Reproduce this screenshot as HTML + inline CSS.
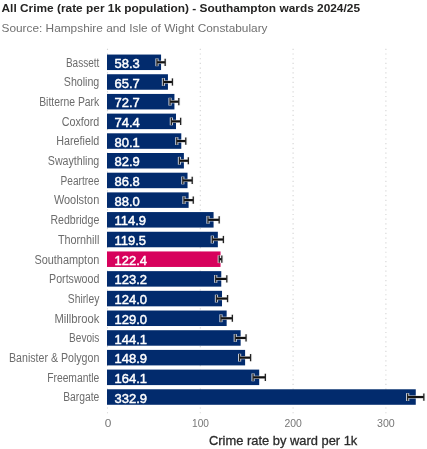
<!DOCTYPE html>
<html><head><meta charset="utf-8"><style>
html,body{margin:0;padding:0;background:#fff;width:427px;height:449px;overflow:hidden}
svg{display:block;filter:blur(0.35px)}
text{font-family:"Liberation Sans",sans-serif}
</style></head><body>
<svg width="427" height="449" viewBox="0 0 427 449">

<text x="1.5" y="12.4" font-size="11.8" font-weight="bold" fill="#252423" textLength="358.5" lengthAdjust="spacingAndGlyphs">All Crime (rate per 1k population) - Southampton wards 2024/25</text>
<text x="1.5" y="31.6" font-size="11.8" fill="#707070" textLength="266" lengthAdjust="spacingAndGlyphs">Source: Hampshire and Isle of Wight Constabulary</text>
<line x1="107.50" y1="48.7" x2="107.50" y2="414.5" stroke="#d4d4d4" stroke-width="1.1" stroke-dasharray="1.2 3.52"/>
<line x1="200.30" y1="48.7" x2="200.30" y2="414.5" stroke="#d4d4d4" stroke-width="1.1" stroke-dasharray="1.2 3.52"/>
<line x1="293.10" y1="48.7" x2="293.10" y2="414.5" stroke="#d4d4d4" stroke-width="1.1" stroke-dasharray="1.2 3.52"/>
<line x1="385.90" y1="48.7" x2="385.90" y2="414.5" stroke="#d4d4d4" stroke-width="1.1" stroke-dasharray="1.2 3.52"/>
<rect x="107.0" y="54.55" width="54.07" height="15.5" fill="#022b6d"/>
<text x="99.3" y="66.60" font-size="12.3" fill="#6c6c6c" text-anchor="end" textLength="33.4" lengthAdjust="spacingAndGlyphs">Bassett</text>
<text x="114.5" y="67.90" font-size="13" fill="#ffffff" stroke="#ffffff" stroke-width="0.45">58.3</text>
<rect x="107.0" y="74.24" width="60.94" height="15.5" fill="#022b6d"/>
<text x="99.3" y="86.29" font-size="12.3" fill="#6c6c6c" text-anchor="end" textLength="35.5" lengthAdjust="spacingAndGlyphs">Sholing</text>
<text x="114.5" y="87.59" font-size="13" fill="#ffffff" stroke="#ffffff" stroke-width="0.45">65.7</text>
<rect x="107.0" y="93.93" width="67.43" height="15.5" fill="#022b6d"/>
<text x="99.3" y="105.98" font-size="12.3" fill="#6c6c6c" text-anchor="end" textLength="60.1" lengthAdjust="spacingAndGlyphs">Bitterne Park</text>
<text x="114.5" y="107.28" font-size="13" fill="#ffffff" stroke="#ffffff" stroke-width="0.45">72.7</text>
<rect x="107.0" y="113.62" width="69.01" height="15.5" fill="#022b6d"/>
<text x="99.3" y="125.67" font-size="12.3" fill="#6c6c6c" text-anchor="end" textLength="37.6" lengthAdjust="spacingAndGlyphs">Coxford</text>
<text x="114.5" y="126.97" font-size="13" fill="#ffffff" stroke="#ffffff" stroke-width="0.45">74.4</text>
<rect x="107.0" y="133.31" width="74.29" height="15.5" fill="#022b6d"/>
<text x="99.3" y="145.36" font-size="12.3" fill="#6c6c6c" text-anchor="end" textLength="43.0" lengthAdjust="spacingAndGlyphs">Harefield</text>
<text x="114.5" y="146.66" font-size="13" fill="#ffffff" stroke="#ffffff" stroke-width="0.45">80.1</text>
<rect x="107.0" y="153.00" width="76.89" height="15.5" fill="#022b6d"/>
<text x="99.3" y="165.05" font-size="12.3" fill="#6c6c6c" text-anchor="end" textLength="51.5" lengthAdjust="spacingAndGlyphs">Swaythling</text>
<text x="114.5" y="166.35" font-size="13" fill="#ffffff" stroke="#ffffff" stroke-width="0.45">82.9</text>
<rect x="107.0" y="172.69" width="80.51" height="15.5" fill="#022b6d"/>
<text x="99.3" y="184.74" font-size="12.3" fill="#6c6c6c" text-anchor="end" textLength="38.7" lengthAdjust="spacingAndGlyphs">Peartree</text>
<text x="114.5" y="186.04" font-size="13" fill="#ffffff" stroke="#ffffff" stroke-width="0.45">86.8</text>
<rect x="107.0" y="192.38" width="81.62" height="15.5" fill="#022b6d"/>
<text x="99.3" y="204.43" font-size="12.3" fill="#6c6c6c" text-anchor="end" textLength="45.4" lengthAdjust="spacingAndGlyphs">Woolston</text>
<text x="114.5" y="205.73" font-size="13" fill="#ffffff" stroke="#ffffff" stroke-width="0.45">88.0</text>
<rect x="107.0" y="212.07" width="106.57" height="15.5" fill="#022b6d"/>
<text x="99.3" y="224.12" font-size="12.3" fill="#6c6c6c" text-anchor="end" textLength="48.9" lengthAdjust="spacingAndGlyphs">Redbridge</text>
<text x="114.5" y="225.42" font-size="13" fill="#ffffff" stroke="#ffffff" stroke-width="0.45">114.9</text>
<rect x="107.0" y="231.76" width="110.84" height="15.5" fill="#022b6d"/>
<text x="99.3" y="243.81" font-size="12.3" fill="#6c6c6c" text-anchor="end" textLength="41.4" lengthAdjust="spacingAndGlyphs">Thornhill</text>
<text x="114.5" y="245.11" font-size="13" fill="#ffffff" stroke="#ffffff" stroke-width="0.45">119.5</text>
<rect x="107.0" y="251.45" width="113.53" height="15.5" fill="#d7015c"/>
<text x="99.3" y="263.50" font-size="12.3" fill="#6c6c6c" text-anchor="end" textLength="64.9" lengthAdjust="spacingAndGlyphs">Southampton</text>
<text x="114.5" y="264.80" font-size="13" fill="#ffffff" stroke="#ffffff" stroke-width="0.45">122.4</text>
<rect x="107.0" y="271.14" width="114.27" height="15.5" fill="#022b6d"/>
<text x="99.3" y="283.19" font-size="12.3" fill="#6c6c6c" text-anchor="end" textLength="50.2" lengthAdjust="spacingAndGlyphs">Portswood</text>
<text x="114.5" y="284.49" font-size="13" fill="#ffffff" stroke="#ffffff" stroke-width="0.45">123.2</text>
<rect x="107.0" y="290.83" width="115.01" height="15.5" fill="#022b6d"/>
<text x="99.3" y="302.88" font-size="12.3" fill="#6c6c6c" text-anchor="end" textLength="31.5" lengthAdjust="spacingAndGlyphs">Shirley</text>
<text x="114.5" y="304.18" font-size="13" fill="#ffffff" stroke="#ffffff" stroke-width="0.45">124.0</text>
<rect x="107.0" y="310.52" width="119.65" height="15.5" fill="#022b6d"/>
<text x="99.3" y="322.57" font-size="12.3" fill="#6c6c6c" text-anchor="end" textLength="44.9" lengthAdjust="spacingAndGlyphs">Millbrook</text>
<text x="114.5" y="323.87" font-size="13" fill="#ffffff" stroke="#ffffff" stroke-width="0.45">129.0</text>
<rect x="107.0" y="330.21" width="133.65" height="15.5" fill="#022b6d"/>
<text x="99.3" y="342.26" font-size="12.3" fill="#6c6c6c" text-anchor="end" textLength="30.2" lengthAdjust="spacingAndGlyphs">Bevois</text>
<text x="114.5" y="343.56" font-size="13" fill="#ffffff" stroke="#ffffff" stroke-width="0.45">144.1</text>
<rect x="107.0" y="349.90" width="138.10" height="15.5" fill="#022b6d"/>
<text x="99.3" y="361.95" font-size="12.3" fill="#6c6c6c" text-anchor="end" textLength="90.3" lengthAdjust="spacingAndGlyphs">Banister &amp; Polygon</text>
<text x="114.5" y="363.25" font-size="13" fill="#ffffff" stroke="#ffffff" stroke-width="0.45">148.9</text>
<rect x="107.0" y="369.59" width="152.20" height="15.5" fill="#022b6d"/>
<text x="99.3" y="381.64" font-size="12.3" fill="#6c6c6c" text-anchor="end" textLength="52.1" lengthAdjust="spacingAndGlyphs">Freemantle</text>
<text x="114.5" y="382.94" font-size="13" fill="#ffffff" stroke="#ffffff" stroke-width="0.45">164.1</text>
<rect x="107.0" y="389.28" width="308.76" height="15.5" fill="#022b6d"/>
<text x="99.3" y="401.33" font-size="12.3" fill="#6c6c6c" text-anchor="end" textLength="36.1" lengthAdjust="spacingAndGlyphs">Bargate</text>
<text x="114.5" y="402.63" font-size="13" fill="#ffffff" stroke="#ffffff" stroke-width="0.45">332.9</text>
<g stroke="#f0f0f0" stroke-opacity="0.85" stroke-width="3.2" fill="none"><line x1="156.97" y1="62.30" x2="165.17" y2="62.30"/><line x1="156.97" y1="58.40" x2="156.97" y2="66.20"/><line x1="165.17" y1="58.40" x2="165.17" y2="66.20"/></g>
<g stroke="#111111" fill="none"><line stroke-width="2.2" x1="156.97" y1="62.30" x2="165.17" y2="62.30"/><line stroke-width="1.3" stroke="#222222" x1="156.97" y1="58.70" x2="156.97" y2="65.90"/><line stroke-width="1.3" stroke="#222222" x1="165.17" y1="58.70" x2="165.17" y2="65.90"/></g>
<g stroke="#f0f0f0" stroke-opacity="0.85" stroke-width="3.2" fill="none"><line x1="163.44" y1="81.99" x2="172.44" y2="81.99"/><line x1="163.44" y1="78.09" x2="163.44" y2="85.89"/><line x1="172.44" y1="78.09" x2="172.44" y2="85.89"/></g>
<g stroke="#111111" fill="none"><line stroke-width="2.2" x1="163.44" y1="81.99" x2="172.44" y2="81.99"/><line stroke-width="1.3" stroke="#222222" x1="163.44" y1="78.39" x2="163.44" y2="85.59"/><line stroke-width="1.3" stroke="#222222" x1="172.44" y1="78.39" x2="172.44" y2="85.59"/></g>
<g stroke="#f0f0f0" stroke-opacity="0.85" stroke-width="3.2" fill="none"><line x1="170.03" y1="101.68" x2="178.83" y2="101.68"/><line x1="170.03" y1="97.78" x2="170.03" y2="105.58"/><line x1="178.83" y1="97.78" x2="178.83" y2="105.58"/></g>
<g stroke="#111111" fill="none"><line stroke-width="2.2" x1="170.03" y1="101.68" x2="178.83" y2="101.68"/><line stroke-width="1.3" stroke="#222222" x1="170.03" y1="98.08" x2="170.03" y2="105.28"/><line stroke-width="1.3" stroke="#222222" x1="178.83" y1="98.08" x2="178.83" y2="105.28"/></g>
<g stroke="#f0f0f0" stroke-opacity="0.85" stroke-width="3.2" fill="none"><line x1="171.36" y1="121.37" x2="180.66" y2="121.37"/><line x1="171.36" y1="117.47" x2="171.36" y2="125.27"/><line x1="180.66" y1="117.47" x2="180.66" y2="125.27"/></g>
<g stroke="#111111" fill="none"><line stroke-width="2.2" x1="171.36" y1="121.37" x2="180.66" y2="121.37"/><line stroke-width="1.3" stroke="#222222" x1="171.36" y1="117.77" x2="171.36" y2="124.97"/><line stroke-width="1.3" stroke="#222222" x1="180.66" y1="117.77" x2="180.66" y2="124.97"/></g>
<g stroke="#f0f0f0" stroke-opacity="0.85" stroke-width="3.2" fill="none"><line x1="176.79" y1="141.06" x2="185.79" y2="141.06"/><line x1="176.79" y1="137.16" x2="176.79" y2="144.96"/><line x1="185.79" y1="137.16" x2="185.79" y2="144.96"/></g>
<g stroke="#111111" fill="none"><line stroke-width="2.2" x1="176.79" y1="141.06" x2="185.79" y2="141.06"/><line stroke-width="1.3" stroke="#222222" x1="176.79" y1="137.46" x2="176.79" y2="144.66"/><line stroke-width="1.3" stroke="#222222" x1="185.79" y1="137.46" x2="185.79" y2="144.66"/></g>
<g stroke="#f0f0f0" stroke-opacity="0.85" stroke-width="3.2" fill="none"><line x1="179.44" y1="160.75" x2="188.34" y2="160.75"/><line x1="179.44" y1="156.85" x2="179.44" y2="164.65"/><line x1="188.34" y1="156.85" x2="188.34" y2="164.65"/></g>
<g stroke="#111111" fill="none"><line stroke-width="2.2" x1="179.44" y1="160.75" x2="188.34" y2="160.75"/><line stroke-width="1.3" stroke="#222222" x1="179.44" y1="157.15" x2="179.44" y2="164.35"/><line stroke-width="1.3" stroke="#222222" x1="188.34" y1="157.15" x2="188.34" y2="164.35"/></g>
<g stroke="#f0f0f0" stroke-opacity="0.85" stroke-width="3.2" fill="none"><line x1="182.81" y1="180.44" x2="192.21" y2="180.44"/><line x1="182.81" y1="176.54" x2="182.81" y2="184.34"/><line x1="192.21" y1="176.54" x2="192.21" y2="184.34"/></g>
<g stroke="#111111" fill="none"><line stroke-width="2.2" x1="182.81" y1="180.44" x2="192.21" y2="180.44"/><line stroke-width="1.3" stroke="#222222" x1="182.81" y1="176.84" x2="182.81" y2="184.04"/><line stroke-width="1.3" stroke="#222222" x1="192.21" y1="176.84" x2="192.21" y2="184.04"/></g>
<g stroke="#f0f0f0" stroke-opacity="0.85" stroke-width="3.2" fill="none"><line x1="183.97" y1="200.13" x2="193.27" y2="200.13"/><line x1="183.97" y1="196.23" x2="183.97" y2="204.03"/><line x1="193.27" y1="196.23" x2="193.27" y2="204.03"/></g>
<g stroke="#111111" fill="none"><line stroke-width="2.2" x1="183.97" y1="200.13" x2="193.27" y2="200.13"/><line stroke-width="1.3" stroke="#222222" x1="183.97" y1="196.53" x2="183.97" y2="203.73"/><line stroke-width="1.3" stroke="#222222" x1="193.27" y1="196.53" x2="193.27" y2="203.73"/></g>
<g stroke="#f0f0f0" stroke-opacity="0.85" stroke-width="3.2" fill="none"><line x1="207.97" y1="219.82" x2="219.17" y2="219.82"/><line x1="207.97" y1="215.92" x2="207.97" y2="223.72"/><line x1="219.17" y1="215.92" x2="219.17" y2="223.72"/></g>
<g stroke="#111111" fill="none"><line stroke-width="2.2" x1="207.97" y1="219.82" x2="219.17" y2="219.82"/><line stroke-width="1.3" stroke="#222222" x1="207.97" y1="216.22" x2="207.97" y2="223.42"/><line stroke-width="1.3" stroke="#222222" x1="219.17" y1="216.22" x2="219.17" y2="223.42"/></g>
<g stroke="#f0f0f0" stroke-opacity="0.85" stroke-width="3.2" fill="none"><line x1="212.29" y1="239.51" x2="223.39" y2="239.51"/><line x1="212.29" y1="235.61" x2="212.29" y2="243.41"/><line x1="223.39" y1="235.61" x2="223.39" y2="243.41"/></g>
<g stroke="#111111" fill="none"><line stroke-width="2.2" x1="212.29" y1="239.51" x2="223.39" y2="239.51"/><line stroke-width="1.3" stroke="#222222" x1="212.29" y1="235.91" x2="212.29" y2="243.11"/><line stroke-width="1.3" stroke="#222222" x1="223.39" y1="235.91" x2="223.39" y2="243.11"/></g>
<g stroke="#f0f0f0" stroke-opacity="0.85" stroke-width="3.2" fill="none"><line x1="219.23" y1="259.20" x2="221.83" y2="259.20"/><line x1="219.23" y1="255.30" x2="219.23" y2="263.10"/><line x1="221.83" y1="255.30" x2="221.83" y2="263.10"/></g>
<g stroke="#111111" fill="none"><line stroke-width="2.2" x1="219.23" y1="259.20" x2="221.83" y2="259.20"/><line stroke-width="1.3" stroke="#222222" x1="219.23" y1="255.60" x2="219.23" y2="262.80"/><line stroke-width="1.3" stroke="#222222" x1="221.83" y1="255.60" x2="221.83" y2="262.80"/></g>
<g stroke="#f0f0f0" stroke-opacity="0.85" stroke-width="3.2" fill="none"><line x1="215.72" y1="278.89" x2="226.82" y2="278.89"/><line x1="215.72" y1="274.99" x2="215.72" y2="282.79"/><line x1="226.82" y1="274.99" x2="226.82" y2="282.79"/></g>
<g stroke="#111111" fill="none"><line stroke-width="2.2" x1="215.72" y1="278.89" x2="226.82" y2="278.89"/><line stroke-width="1.3" stroke="#222222" x1="215.72" y1="275.29" x2="215.72" y2="282.49"/><line stroke-width="1.3" stroke="#222222" x1="226.82" y1="275.29" x2="226.82" y2="282.49"/></g>
<g stroke="#f0f0f0" stroke-opacity="0.85" stroke-width="3.2" fill="none"><line x1="216.46" y1="298.58" x2="227.56" y2="298.58"/><line x1="216.46" y1="294.68" x2="216.46" y2="302.48"/><line x1="227.56" y1="294.68" x2="227.56" y2="302.48"/></g>
<g stroke="#111111" fill="none"><line stroke-width="2.2" x1="216.46" y1="298.58" x2="227.56" y2="298.58"/><line stroke-width="1.3" stroke="#222222" x1="216.46" y1="294.98" x2="216.46" y2="302.18"/><line stroke-width="1.3" stroke="#222222" x1="227.56" y1="294.98" x2="227.56" y2="302.18"/></g>
<g stroke="#f0f0f0" stroke-opacity="0.85" stroke-width="3.2" fill="none"><line x1="220.95" y1="318.27" x2="232.35" y2="318.27"/><line x1="220.95" y1="314.37" x2="220.95" y2="322.17"/><line x1="232.35" y1="314.37" x2="232.35" y2="322.17"/></g>
<g stroke="#111111" fill="none"><line stroke-width="2.2" x1="220.95" y1="318.27" x2="232.35" y2="318.27"/><line stroke-width="1.3" stroke="#222222" x1="220.95" y1="314.67" x2="220.95" y2="321.87"/><line stroke-width="1.3" stroke="#222222" x1="232.35" y1="314.67" x2="232.35" y2="321.87"/></g>
<g stroke="#f0f0f0" stroke-opacity="0.85" stroke-width="3.2" fill="none"><line x1="235.25" y1="337.96" x2="246.05" y2="337.96"/><line x1="235.25" y1="334.06" x2="235.25" y2="341.86"/><line x1="246.05" y1="334.06" x2="246.05" y2="341.86"/></g>
<g stroke="#111111" fill="none"><line stroke-width="2.2" x1="235.25" y1="337.96" x2="246.05" y2="337.96"/><line stroke-width="1.3" stroke="#222222" x1="235.25" y1="334.36" x2="235.25" y2="341.56"/><line stroke-width="1.3" stroke="#222222" x1="246.05" y1="334.36" x2="246.05" y2="341.56"/></g>
<g stroke="#f0f0f0" stroke-opacity="0.85" stroke-width="3.2" fill="none"><line x1="239.60" y1="357.65" x2="250.60" y2="357.65"/><line x1="239.60" y1="353.75" x2="239.60" y2="361.55"/><line x1="250.60" y1="353.75" x2="250.60" y2="361.55"/></g>
<g stroke="#111111" fill="none"><line stroke-width="2.2" x1="239.60" y1="357.65" x2="250.60" y2="357.65"/><line stroke-width="1.3" stroke="#222222" x1="239.60" y1="354.05" x2="239.60" y2="361.25"/><line stroke-width="1.3" stroke="#222222" x1="250.60" y1="354.05" x2="250.60" y2="361.25"/></g>
<g stroke="#f0f0f0" stroke-opacity="0.85" stroke-width="3.2" fill="none"><line x1="253.05" y1="377.34" x2="265.35" y2="377.34"/><line x1="253.05" y1="373.44" x2="253.05" y2="381.24"/><line x1="265.35" y1="373.44" x2="265.35" y2="381.24"/></g>
<g stroke="#111111" fill="none"><line stroke-width="2.2" x1="253.05" y1="377.34" x2="265.35" y2="377.34"/><line stroke-width="1.3" stroke="#222222" x1="253.05" y1="373.74" x2="253.05" y2="380.94"/><line stroke-width="1.3" stroke="#222222" x1="265.35" y1="373.74" x2="265.35" y2="380.94"/></g>
<g stroke="#f0f0f0" stroke-opacity="0.85" stroke-width="3.2" fill="none"><line x1="407.66" y1="397.03" x2="423.86" y2="397.03"/><line x1="407.66" y1="393.13" x2="407.66" y2="400.93"/><line x1="423.86" y1="393.13" x2="423.86" y2="400.93"/></g>
<g stroke="#111111" fill="none"><line stroke-width="2.2" x1="407.66" y1="397.03" x2="423.86" y2="397.03"/><line stroke-width="1.3" stroke="#222222" x1="407.66" y1="393.43" x2="407.66" y2="400.63"/><line stroke-width="1.3" stroke="#222222" x1="423.86" y1="393.43" x2="423.86" y2="400.63"/></g>
<text x="104.70" y="427.4" font-size="11.7" fill="#777777" textLength="6.6" lengthAdjust="spacingAndGlyphs">0</text>
<text x="192.00" y="427.4" font-size="11.7" fill="#777777" textLength="16.9" lengthAdjust="spacingAndGlyphs">100</text>
<text x="284.50" y="427.4" font-size="11.7" fill="#777777" textLength="17.4" lengthAdjust="spacingAndGlyphs">200</text>
<text x="377.00" y="427.4" font-size="11.7" fill="#777777" textLength="17.8" lengthAdjust="spacingAndGlyphs">300</text>
<text x="209" y="444.7" font-size="12.9" fill="#2b2b2b" stroke="#2b2b2b" stroke-width="0.3">Crime rate by ward per 1k</text>
</svg></body></html>
